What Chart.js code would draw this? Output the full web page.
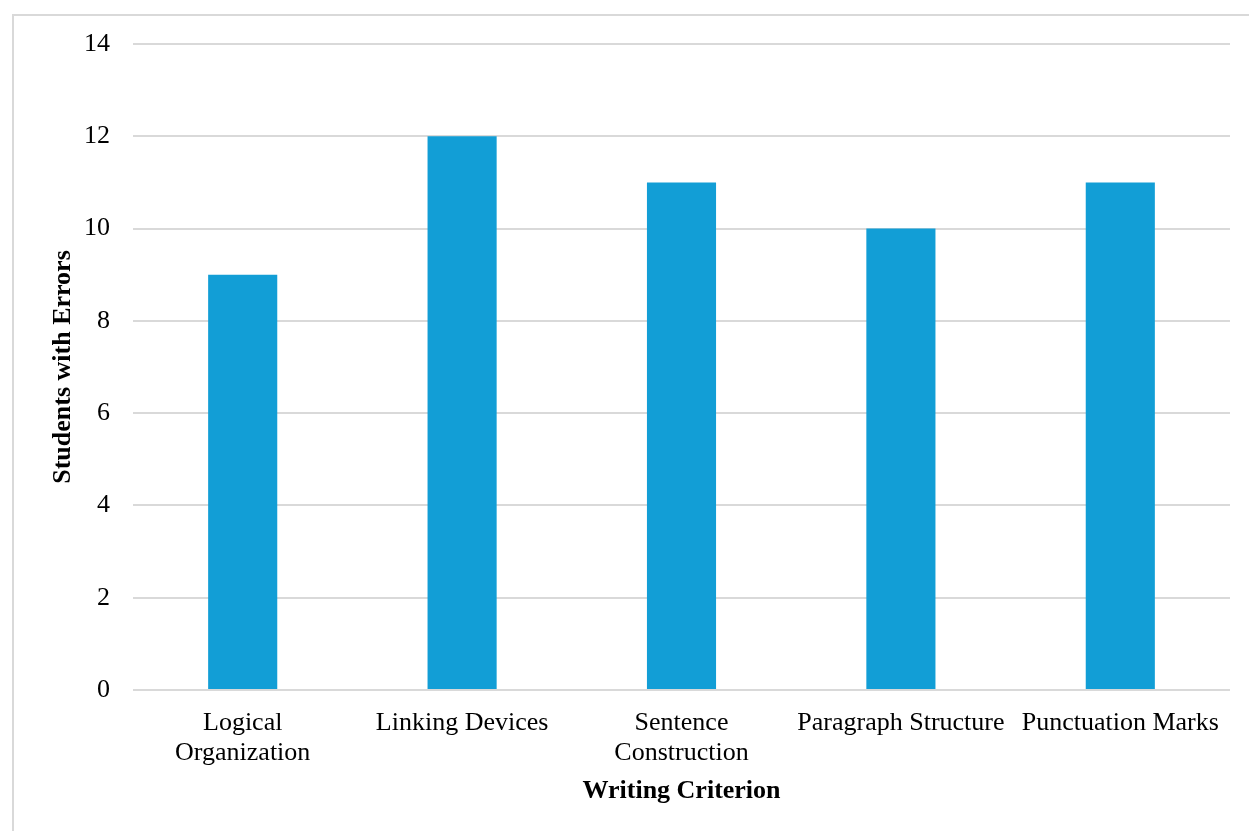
<!DOCTYPE html>
<html>
<head>
<meta charset="utf-8">
<script src="https://cdn.jsdelivr.net/npm/chart.js@4.4.0/dist/chart.umd.min.js"></script>
<style>
  html, body { margin: 0; padding: 0; background: #fff; }
  #frame {
    position: absolute; left: 12px; top: 14px;
    width: 1237px; height: 817px;
    border-top: 2px solid #d9d9d9;
    border-left: 2px solid #d9d9d9;
    box-sizing: border-box;
  }
  #wrap { position: absolute; left: 0; top: 0; width: 1235px; height: 815px; }
</style>
</head>
<body>
<div id="frame"><div id="wrap"><canvas id="errChart"></canvas></div></div>
<script>
// data
const criteria = [
  ['Logical', 'Organization'],
  'Linking Devices',
  ['Sentence', 'Construction'],
  'Paragraph Structure',
  'Punctuation Marks'
];
const errorCounts = [9, 12, 11, 10, 11];
const yMin = 0, yMax = 14, yStep = 2;

const serif = "'Liberation Serif', 'Times New Roman', serif";

document.addEventListener('DOMContentLoaded', function() {
  const ctx = document.getElementById('errChart');
  new Chart(ctx, {
    type: 'bar',
    data: {
      labels: criteria,
      datasets: [{
        label: 'Students with Errors',
        data: errorCounts,
        backgroundColor: '#129ED6',
        barPercentage: 1,
        categoryPercentage: 0.315
      }]
    },
    options: {
      responsive: true,
      maintainAspectRatio: false,
      animation: false,
      layout: { padding: { left: 0, right: 19, top: 28, bottom: 0 } },
      plugins: {
        legend: { display: false },
        tooltip: { enabled: false }
      },
      scales: {
        x: {
          grid: { display: false, drawTicks: false },
          border: { display: false },
          ticks: {
            color: '#000',
            padding: 18,
            maxRotation: 0,
            autoSkip: false,
            font: { family: serif, size: 26, lineHeight: 1.17 }
          },
          title: {
            display: true,
            text: 'Writing Criterion',
            color: '#000',
            padding: { top: 8, bottom: 24 },
            font: { family: serif, size: 26, weight: 'bold' }
          },
          afterFit: (scale) => { scale.height = 141; }
        },
        y: {
          min: yMin,
          max: yMax,
          grid: { color: '#d9d9d9', lineWidth: 2, drawTicks: false },
          border: { display: false },
          ticks: {
            stepSize: yStep,
            color: '#000',
            padding: 23,
            font: { family: serif, size: 26 }
          },
          title: {
            display: true,
            text: 'Students with Errors',
            color: '#000',
            padding: { top: 34, bottom: 0 },
            font: { family: serif, size: 26, weight: 'bold' }
          },
          afterFit: (scale) => {
            scale.width = 119;
            scale.paddingTop = 0;
            scale.paddingBottom = 0;
          }
        }
      }
    }
  });
});
</script>
</body>
</html>
